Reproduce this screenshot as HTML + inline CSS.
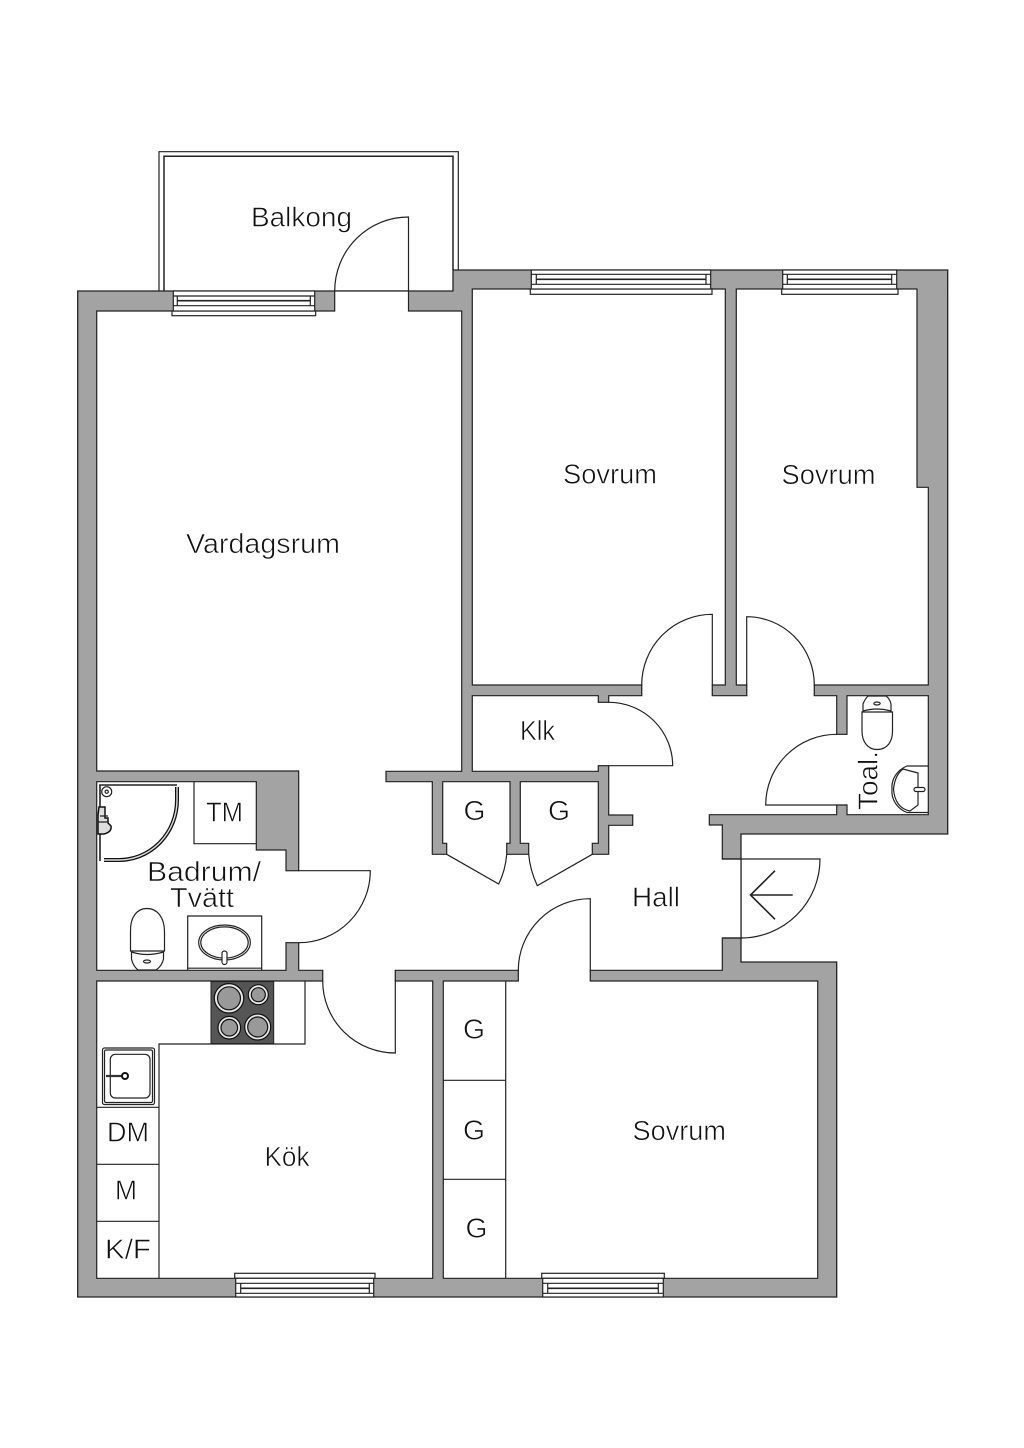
<!DOCTYPE html>
<html><head><meta charset="utf-8"><style>
html,body{margin:0;padding:0;background:#fff}
svg{display:block}
.t{font-family:"Liberation Sans",sans-serif;font-size:28px;fill:#111;stroke:#fff;stroke-width:.6px;}
.w{fill:#fff;stroke:#222;stroke-width:1.2}
.l{fill:none;stroke:#222;stroke-width:1.2}
.b{fill:none;stroke:#222;stroke-width:1.6}
</style></head><body>
<svg width="1024" height="1448" viewBox="0 0 1024 1448" xmlns="http://www.w3.org/2000/svg">
<rect width="1024" height="1448" fill="#fff"/>
<!-- balcony -->
<path class="l" d="M159 291V151.700H458.300V270"/>
<path class="l" style="stroke-width:1.500" d="M164 291V156.300H453V270"/>
<!-- outer walls -->
<polygon fill="#a3a3a3" stroke="#222" stroke-width="1.3" points="77.7,291 453,291 453,270 947.7,270 947.7,834 741,834 741,962 836.7,962 836.7,1297 77.7,1297"/>
<!-- rooms -->
<polygon class="w" points="96.7,311 334.7,311 334.7,291 408.5,291 408.5,311 461.7,311 461.7,771.3 386,771.3 386,781.7 432.3,781.7 432.3,854.3 446.7,854.3 446.7,843.3 442.7,843.3 442.7,781.7 510,781.7 510,843.3 506.7,843.3 506.7,854.3 528.7,854.3 528.7,843.3 520.3,843.3 520.3,781.7 598.3,781.7 598.3,843.3 592.3,843.3 592.3,854.3 608.7,854.3 608.7,825.3 632.7,825.3 632.7,815 608.7,815 608.7,695.7 836.7,695.7 836.7,814.7 709.3,814.7 709.3,825 722.3,825 722.3,859 741,859 741,938 722.3,938 722.3,970.3 298.7,970.3 298.7,771 96.7,771"/>
<polygon class="w" points="472.3,289 725.3,289 725.3,685 472.3,685"/>
<polygon class="w" points="736.3,289 917,289 917,487.3 928.3,487.3 928.3,685 736.3,685"/>
<polygon class="w" points="847,695.7 928.3,695.7 928.3,814.7 847,814.7"/>
<polygon class="w" points="472.3,695.7 598.3,695.7 598.3,771.3 472.3,771.3"/>
<polygon class="w" points="96.7,781.7 256.3,781.7 256.3,850 286,850 286,970.3 96.7,970.3"/>
<polygon class="w" points="96.7,981 432.7,981 432.7,1278.3 96.7,1278.3"/>
<polygon class="w" points="443.3,981 817.7,981 817.7,1278.3 443.3,1278.3"/>
<!-- door gaps -->
<g fill="#fff">
<rect x="642.4" y="684" width="69.3" height="13"/>
<rect x="747.4" y="684" width="66.3" height="13"/>
<rect x="518.9" y="969" width="70.8" height="13.5"/>
<rect x="323.3" y="969" width="71.4" height="13.5"/>
<rect x="285" y="871.3" width="15" height="70.8"/>
<rect x="597.3" y="702.9" width="12.4" height="62.2"/>
<rect x="835.8" y="734.9" width="12.2" height="69.5"/>
</g>
<!-- doors -->
<g class="l">
<path class="l" d="M408.5 291V217A73.8 74 0 0 0 334.7 291"/>
<path class="l" d="M712.3 695.7V614.3A70.6 70.7 0 0 0 641.7 685V695.7"/>
<path class="l" d="M746.7 695.7V616.7A67.6 68.3 0 0 1 814.3 685V695.7"/>
<path class="l" d="M590.3 981V898.7A72 71.6 0 0 0 518.3 970.3V981"/>
<path class="l" d="M395.3 970.3V1053A72.6 72 0 0 1 322.7 981V970.3"/>
<path class="l" d="M286 870.7H370.3A71.6 72 0 0 1 298.7 942.7H286"/>
<path class="l" d="M598.3 702.3H608.7A64 63.4 0 0 1 672.7 765.7H598.3"/>
<path class="l" d="M847 734.3H836.7A71 70.7 0 0 0 765.7 805H847"/>
<path class="l" d="M722.3 859H820A79 79 0 0 1 741 938H722.3"/>
<path class="l" d="M446.7 854.3L498.7 884Q505.5 870 506.7 854.3"/>
<path class="l" d="M592.3 854.3L537.3 885.7Q530 870 528.7 854.3"/>
</g>
<path class="b" d="M792.7 895H750M775 870.7L750.5 895L775 919.3"/>
<!-- windows -->
<g class="l">
<rect class="w" x="172" y="311" width="143.7" height="4.7"/>
<rect class="w" x="173.3" y="291" width="141.4" height="20"/>
<path class="l" d="M173.3 296H314.7M173.3 305.7H314.7M177.3 296V305.7M310.3 296V305.7"/>
<path class="l" style="stroke-width:1.7" d="M177.3 300.7H310.3"/>
<rect class="w" x="530.3" y="289" width="181.7" height="5.3"/>
<rect class="w" x="531.3" y="270" width="179.4" height="19"/>
<path class="l" d="M531.3 274.3H710.7M531.3 284.3H710.7M536.3 274.3V284.3M706 274.3V284.3"/>
<path class="l" style="stroke-width:1.7" d="M536.3 279.3H706"/>
<rect class="w" x="781.7" y="289" width="116.3" height="5.3"/>
<rect class="w" x="782.7" y="270" width="114" height="19"/>
<path class="l" d="M782.7 274.3H896.7M782.7 284.3H896.7M787.3 274.3V284.3M891.7 274.3V284.3"/>
<path class="l" style="stroke-width:1.7" d="M787.3 279.3H891.7"/>
<rect class="w" x="234.7" y="1273.3" width="140.3" height="5"/>
<rect class="w" x="235.7" y="1278.3" width="138" height="18.7"/>
<path class="l" d="M235.7 1283.3H373.7M235.7 1293.3H373.7M240.7 1283.3V1293.3M369.3 1283.3V1293.3"/>
<path class="l" style="stroke-width:1.7" d="M240.7 1288.3H369.3"/>
<rect class="w" x="541.7" y="1273.3" width="122.6" height="5"/>
<rect class="w" x="542.7" y="1278.3" width="120.6" height="18.7"/>
<path class="l" d="M542.7 1283.3H663.3M542.7 1293.3H663.3M547.7 1283.3V1293.3M658.3 1283.3V1293.3"/>
<path class="l" style="stroke-width:1.7" d="M547.7 1288.3H658.3"/>
</g>
<!-- closets, counter -->
<path class="l" d="M505.7 981V1278.3M443.3 1080.3H505.7M443.3 1179.3H505.7"/>
<path class="l" d="M305 981V1044H159V1278.3M96.7 1107.3H159M96.7 1164.3H159M96.7 1221.3H159"/>
<!-- TM -->
<path class="l" d="M194 781.7V843.7H256.3"/>
<!-- hob -->
<rect x="211" y="981.6" width="62.7" height="62" fill="#555" stroke="#222"/>
<g stroke="#111" stroke-width="1.2">
<circle cx="229" cy="998.3" r="14.7" fill="#e8e8e8"/><circle cx="229" cy="998.3" r="11.5" fill="#999"/>
<circle cx="258.3" cy="994.7" r="10" fill="#e8e8e8"/><circle cx="258.3" cy="994.7" r="7" fill="#999"/>
<circle cx="229.3" cy="1027.7" r="11.3" fill="#e8e8e8"/><circle cx="229.3" cy="1027.7" r="8.3" fill="#999"/>
<circle cx="257.7" cy="1027" r="13" fill="#e8e8e8"/><circle cx="257.7" cy="1027" r="10" fill="#999"/>
</g>
<!-- kitchen sink -->
<rect class="l" x="102.5" y="1048" width="52" height="56.5" rx="2"/>
<rect class="l" x="104.5" y="1050" width="48" height="52.5" rx="1.5"/>
<rect class="l" x="110.3" y="1054.3" width="39.7" height="43.7" rx="5"/>
<path stroke="#333" stroke-width="2.2" d="M106 1076H124"/>
<circle cx="125" cy="1076" r="3" fill="#fff" stroke="#111" stroke-width="2"/>
<!-- shower -->
<path class="l" style="stroke-width:1.6" d="M100 861V785H177"/>
<path d="M177 787V800A58 60 0 0 1 118 860H104" fill="none" stroke="#111" stroke-width="4"/>
<path d="M177 787V800A58 60 0 0 1 118 860H104" fill="none" stroke="#ddd" stroke-width="1.4"/>
<circle class="l" cx="106.7" cy="791.7" r="5"/><circle class="l" cx="106.7" cy="791.7" r="1.6"/>
<path fill="#ddd" stroke="#111" stroke-width="1.5" d="M99 807H105V818H108V823L111 826Q112 832 104 834H98V815Z"/>
<path class="l" d="M98 822H108M100 816H108"/>
<!-- bath toilet -->
<path class="l" d="M130.500 951V932C130 917 137 908.500 147 908.500C157 908.500 164.500 917 164.500 932V951Z"/>
<path class="l" d="M131.500 952Q147 957 163.500 952V959Q162 966 156 970H138Q133 966 131.500 959Z"/>
<ellipse class="l" cx="147" cy="961.500" rx="3.500" ry="1.500"/>
<!-- bath sink -->
<path class="l" d="M187.700 970V916H261.700V970"/>
<path class="l" d="M187.700 968.200H261.700"/>
<ellipse class="l" cx="224.500" cy="942.500" rx="25.800" ry="17.500"/>
<ellipse class="l" cx="224.500" cy="942.500" rx="23.700" ry="15.600"/>
<rect class="w" x="222" y="951" width="5" height="13.500" rx="2.500"/>
<!-- wc toilet -->
<path class="l" d="M862 712V731C862 742 868 749.500 877 749.500C887 749.500 892.500 742 892.500 731V712Z"/>
<path class="l" d="M863 711Q877 707 891 711V704Q890 699 886 696H868Q865 699 863 704Z"/>
<ellipse class="l" cx="877" cy="703.500" rx="3.200" ry="1.500"/>
<!-- wc sink -->
<path class="l" d="M928.300 766H907A25 23 0 0 0 892 789A25 23 0 0 0 907 812.500H928.300"/>
<path class="l" d="M903 769L918 773V805L910 811Q895 808 893.500 789Q895 775 903 769Z"/>
<rect class="w" x="914" y="787.500" width="11" height="4" rx="2"/>
<!-- labels -->
<text class="t" x="251" y="226.700" textLength="101" lengthAdjust="spacingAndGlyphs">Balkong</text>
<text class="t" x="186" y="553" textLength="154" lengthAdjust="spacingAndGlyphs">Vardagsrum</text>
<text class="t" x="563" y="483.300" textLength="94" lengthAdjust="spacingAndGlyphs">Sovrum</text>
<text class="t" x="781.500" y="484" textLength="94" lengthAdjust="spacingAndGlyphs">Sovrum</text>
<text class="t" x="632.500" y="1140" textLength="93.500" lengthAdjust="spacingAndGlyphs">Sovrum</text>
<text class="t" x="520" y="740" textLength="35" lengthAdjust="spacingAndGlyphs">Klk</text>
<text class="t" x="463.500" y="820" textLength="22" lengthAdjust="spacingAndGlyphs">G</text>
<text class="t" x="548" y="820" textLength="22" lengthAdjust="spacingAndGlyphs">G</text>
<text class="t" x="463" y="1038.700" textLength="22" lengthAdjust="spacingAndGlyphs">G</text>
<text class="t" x="463" y="1139.300" textLength="22" lengthAdjust="spacingAndGlyphs">G</text>
<text class="t" x="465.500" y="1237.700" textLength="22" lengthAdjust="spacingAndGlyphs">G</text>
<text class="t" x="632" y="906.700" textLength="48" lengthAdjust="spacingAndGlyphs">Hall</text>
<text class="t" x="264.500" y="1166" textLength="45" lengthAdjust="spacingAndGlyphs">Kök</text>
<text class="t" x="107" y="1141.700" textLength="42" lengthAdjust="spacingAndGlyphs">DM</text>
<text class="t" x="115" y="1199.300" textLength="22" lengthAdjust="spacingAndGlyphs">M</text>
<text class="t" x="105" y="1258.300" textLength="46" lengthAdjust="spacingAndGlyphs">K/F</text>
<text class="t" x="206" y="821.700" textLength="37" lengthAdjust="spacingAndGlyphs">TM</text>
<text class="t" x="147" y="881" textLength="114" lengthAdjust="spacingAndGlyphs">Badrum/</text>
<text class="t" x="170" y="907" textLength="64" lengthAdjust="spacingAndGlyphs">Tvätt</text>
<text class="t" transform="translate(877.300 810) rotate(-90)" x="0" y="0" textLength="59" lengthAdjust="spacingAndGlyphs">Toal.</text>
</svg>
</body></html>
